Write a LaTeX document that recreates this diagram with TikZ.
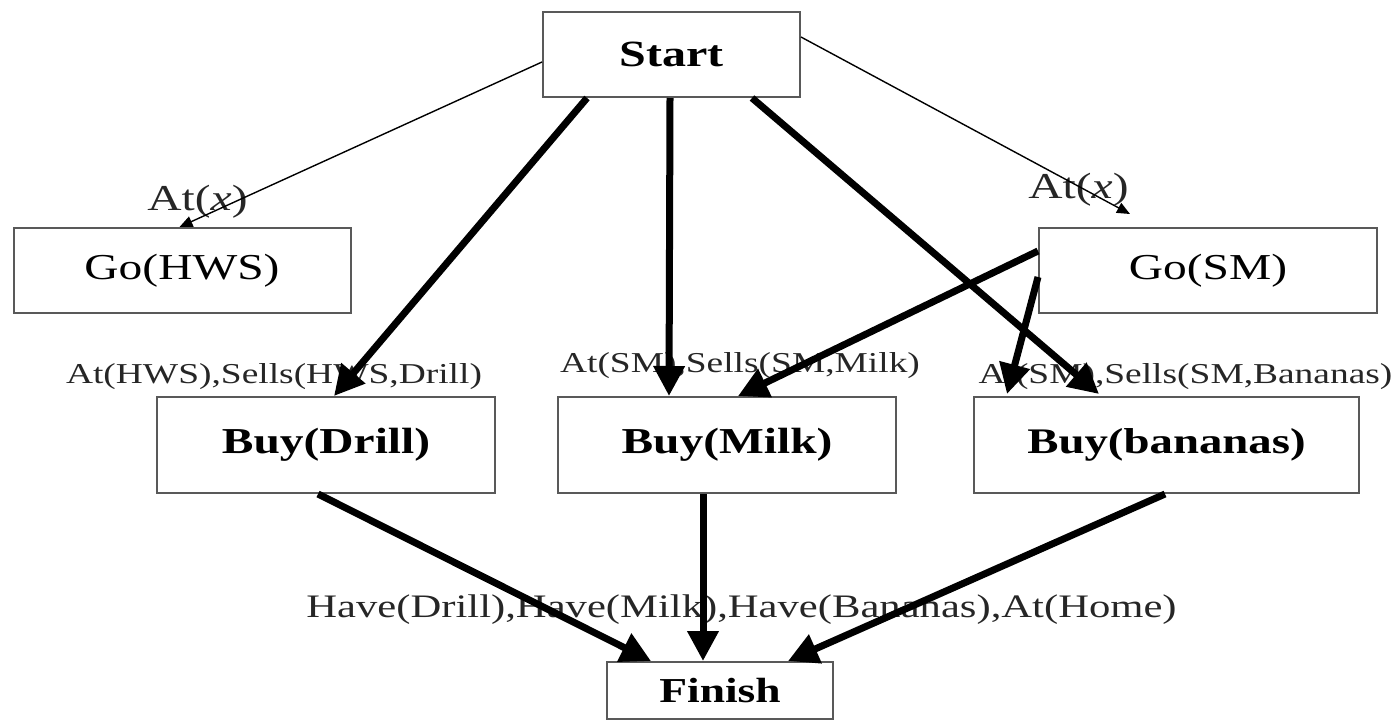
\documentclass[tikz,border=0pt]{standalone}
\usepackage{fontspec}
\setmainfont{Liberation Serif}[FakeStretch=1.3]
\usetikzlibrary{arrows.meta,calc}
\tikzset{
  box/.style={draw=black!65, line width=2pt, fill=white, inner sep=0pt, font=\fontsize{36.5}{40}\selectfont},
  lab/.style={inner sep=0pt, anchor=base, text=black!85},
  thin/.style={line width=1.4pt, -{Triangle[length=13pt,width=11pt]}},
  thick/.style={line width=7pt, -{Triangle[length=30pt,width=30pt]}},
}
\begin{document}
\begin{tikzpicture}[x=1pt,y=-1pt]
\useasboundingbox (0,0) rectangle (1397,721);
% boxes
\node[box, minimum width=257, minimum height=85, font=\fontsize{37}{40}\selectfont\bfseries] (start) at (671.5,54.5) {Start};
\node[box, minimum width=337, minimum height=85] (gohws) at (182,270.5) {Go(HWS)};
\node[box, minimum width=338, minimum height=85] (gosm) at (1208,270.5) {Go(SM)};
\node[box, minimum width=338, minimum height=96, font=\fontsize{36.5}{40}\selectfont\bfseries] (drill) at (326,445) {Buy(Drill)};
\node[box, minimum width=338, minimum height=96, font=\fontsize{36.5}{40}\selectfont\bfseries] (milk) at (727,445) {Buy(Milk)};
\node[box, minimum width=385, minimum height=96, font=\fontsize{36}{40}\selectfont\bfseries] (bananas) at (1166.5,445) {Buy(bananas)};
\node[box, minimum width=226, minimum height=57, font=\fontsize{35}{40}\selectfont\bfseries] (finish) at (720,690.5) {Finish};
% labels
\node[lab, font=\fontsize{36.5}{40}\selectfont] (lx1) at (197.5,210) {At(\textit{x})};
\node[lab, font=\fontsize{36.5}{40}\selectfont] (lx2) at (1078.5,198) {At(\textit{x})};
\node[lab, font=\fontsize{28.8}{32}\selectfont] (l1) at (274,383) {At(HWS),Sells(HWS,Drill)};
\node[lab, font=\fontsize{28.8}{32}\selectfont] (l2) at (740,372) {At(SM),Sells(SM,Milk)};
\node[lab, font=\fontsize{28.8}{32}\selectfont] (l3) at (1185.5,383) {At(SM),Sells(SM,Bananas)};
\node[lab, font=\fontsize{32.8}{36}\selectfont] (l4) at (741.5,617) {Have(Drill),Have(Milk),Have(Bananas),At(Home)};
% connectors
\draw[thin] ($(start.west)+(0,7.5)$) -- ($(gohws.north west)+(167,0)$);
\draw[thin] ($(start.east)+(0,-17.5)$) -- ($(gosm.north west)+(92,-13)$);
\draw[thick] ($(start.south west)+(45,0)$) -- ($(drill.north west)+(178,0)$);
\draw[thick] ($(start.south west)+(128,0)$) -- ($(milk.north west)+(112,0)$);
\draw[thick] ($(start.south west)+(210,0)$) -- ($(bananas.north west)+(126,-2)$);
\draw[thick] ($(gosm.north west)+(0,24)$) -- ($(milk.north west)+(181,0)$);
\draw[thick] ($(gosm.north west)+(0,50)$) -- ($(bananas.north west)+(34,-2)$);
\draw[thick] ($(drill.south west)+(162,0)$) -- ($(finish.north west)+(45,0)$);
\draw[thick] ($(milk.south west)+(146,0)$) -- ($(finish.north west)+(97,0)$);
\draw[thick] ($(bananas.south west)+(192,0)$) -- ($(finish.north west)+(182,0)$);
\end{tikzpicture}
\end{document}
